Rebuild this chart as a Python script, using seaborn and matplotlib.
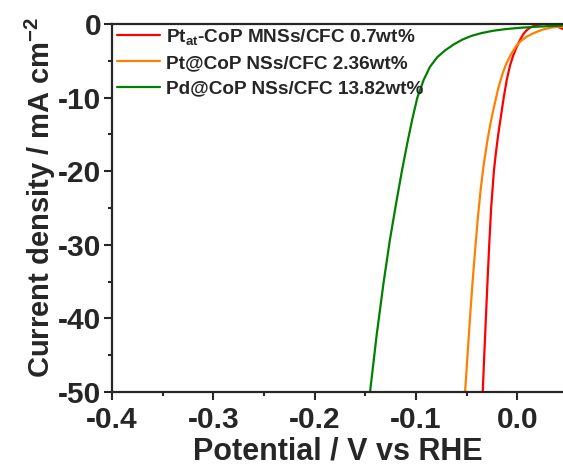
import numpy as np
import pandas as pd
import matplotlib
matplotlib.use("Agg")
import matplotlib.pyplot as plt
from matplotlib.ticker import MultipleLocator
import seaborn as sns

# ---- data ----
labels = ["Pt$_{\\mathrm{at}}$-CoP MNSs/CFC 0.7wt%",
          "Pt@CoP NSs/CFC 2.36wt%",
          "Pd@CoP NSs/CFC 13.82wt%"]
colors = ["#ff0000", "#ff8000", "#008000"]

red_x = [-0.0342, -0.0327, -0.0311, -0.0295, -0.0278, -0.0259, -0.0232, -0.0212,
         -0.0189, -0.0162, -0.0135, -0.0105, -0.0074, -0.0042, -0.0010, 0.0026,
         0.0059, 0.0093, 0.0135, 0.0191, 0.0273, 0.0372, 0.0451]
red_y = [-50.0, -45.0, -40.0, -35.0, -30.0, -25.0, -20.0, -17.5,
         -15.0, -12.5, -10.0, -7.6, -5.7, -4.3, -3.2, -2.17,
         -1.36, -0.82, -0.41, -0.14, 0.05, -0.23, -0.68]

orange_x = [-0.0516, -0.0491, -0.0467, -0.0442, -0.0416, -0.0388, -0.0360, -0.0330,
            -0.0298, -0.0264, -0.0225, -0.0190, -0.0150, -0.0110, -0.0065, -0.0015,
            0.0035, 0.0100, 0.0180, 0.0260, 0.0340, 0.0400, 0.0451]
orange_y = [-50.0, -44.8, -39.8, -35.0, -30.5, -26.0, -22.2, -18.9,
            -16.0, -13.4, -10.9, -8.8, -6.9, -5.4, -4.15, -3.05,
            -2.3, -1.65, -1.12, -0.72, -0.47, -0.38, -0.41]

green_x = [-0.1454, -0.1388, -0.1323, -0.1260, -0.1197, -0.1140, -0.1085, -0.1035,
           -0.0987, -0.0925, -0.0862, -0.0790, -0.0710, -0.0625, -0.0540, -0.0450,
           -0.0350, -0.0240, -0.0120, 0.0020, 0.0180, 0.0320, 0.0451]
green_y = [-50.0, -42.2, -35.4, -29.5, -24.4, -20.0, -16.1, -12.8,
           -10.0, -7.6, -5.8, -4.5, -3.55, -2.75, -2.1, -1.6,
           -1.22, -0.92, -0.7, -0.52, -0.38, -0.28, -0.22]

x_ticks = [-0.4, -0.3, -0.2, -0.1, 0.0]
y_ticks = [0, -10, -20, -30, -40, -50]

# ---- build long-form table ----
frames = []
for lab, xs, ys in zip(labels, [red_x, orange_x, green_x], [red_y, orange_y, green_y]):
    frames.append(pd.DataFrame({"x": xs, "y": ys, "series": lab}))
df = pd.concat(frames, ignore_index=True)

sns.set_style("ticks")
plt.rcParams["font.family"] = ["Liberation Sans", "DejaVu Sans"]
plt.rcParams["font.weight"] = "bold"
plt.rcParams["mathtext.fontset"] = "custom"
plt.rcParams["mathtext.rm"] = "Liberation Sans:bold"
plt.rcParams["mathtext.it"] = "Liberation Sans:bold"
plt.rcParams["mathtext.bf"] = "Liberation Sans:bold"
plt.rcParams["axes.unicode_minus"] = False

fig = plt.figure(figsize=(5.63, 4.70), dpi=100)
ax = fig.add_axes([112 / 563, 1 - 392 / 470, (563 - 112) / 563, (392 - 24) / 470])

sns.lineplot(data=df, x="x", y="y", hue="series", palette=dict(zip(labels, colors)),
             hue_order=labels, estimator=None, sort=False, linewidth=1.6, ax=ax)

ax.set_xlim(-0.4, 0.045)
ax.set_ylim(-50, 0)
ax.set_xticks(x_ticks)
ax.set_xticklabels([f"{v:.1f}" for v in x_ticks])
ax.set_yticks(y_ticks)
ax.set_yticklabels([str(v) for v in y_ticks])
ax.xaxis.set_minor_locator(MultipleLocator(0.05))
ax.yaxis.set_minor_locator(MultipleLocator(5))
ax.tick_params(axis="both", which="major", direction="out", length=6, width=1.5,
               labelsize=21.5)
ax.tick_params(axis="x", which="major", pad=4)
ax.tick_params(axis="y", which="major", pad=1.5)
ax.tick_params(axis="both", which="minor", direction="out", length=3, width=1.5)
for lab in ax.get_xticklabels() + ax.get_yticklabels():
    lab.set_fontweight("bold")

for side in ["left", "bottom", "top"]:
    ax.spines[side].set_linewidth(1.6)
ax.spines["right"].set_visible(False)
ax.spines["top"].set_visible(True)

ax.set_xlabel("Potential / V vs RHE", fontsize=22, fontweight="bold", labelpad=2)
ax.set_ylabel("Current density / mA cm$^{\\mathrm{-2}}$", fontsize=21,
              fontweight="bold")
ax.yaxis.set_label_coords(-0.12, 0.53)

leg = ax.legend(loc="upper left", bbox_to_anchor=(0.0, 1.006), frameon=False,
                handlelength=2.25, handletextpad=0.35, labelspacing=0.42,
                borderpad=0.1, borderaxespad=0.15,
                prop={"weight": "bold", "size": 13.7})
for line in leg.get_lines():
    line.set_linewidth(1.6)

fig.savefig("out.png", dpi=100)
